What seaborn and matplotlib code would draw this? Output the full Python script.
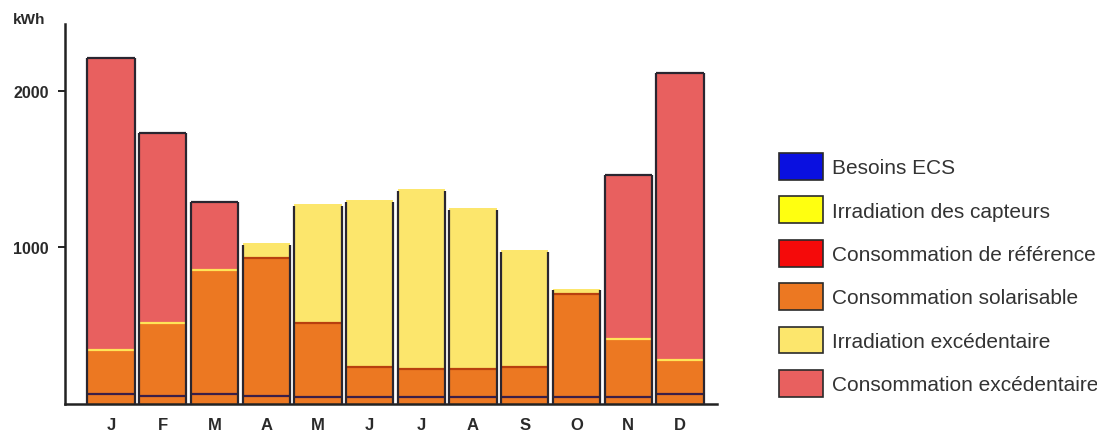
import numpy as np
import pandas as pd
import matplotlib
matplotlib.use("Agg")
import matplotlib.pyplot as plt
from matplotlib.patches import Patch
import seaborn as sns

# ---- data ----
month_keys = ['Jan', 'Fév', 'Mar', 'Avr', 'Mai', 'Juin', 'Juil', 'Août', 'Sep', 'Oct', 'Nov', 'Déc']
month_labels = ['J', 'F', 'M', 'A', 'M', 'J', 'J', 'A', 'S', 'O', 'N', 'D']
irradiation_capteurs = [345, 518, 858, 1027, 1278, 1304, 1374, 1252, 984, 735, 417, 283]
consommation_reference = [2209, 1732, 1291, 935, 518, 234, 224, 224, 234, 703, 1463, 2115]
besoins_ecs = [62, 49, 62, 49, 47, 47, 47, 47, 47, 47, 47, 62]
y_ticks = [1000, 2000]

legend_labels = ['Besoins ECS', 'Irradiation des capteurs', 'Consommation de référence',
                 'Consommation solarisable', 'Irradiation excédentaire', 'Consommation excédentaire']

# ---- styles ----
c_blue = '#0A10E0'
c_yellow = '#FFFF10'
c_red = '#F50A0A'
c_orange = '#EC7822'
c_lightyellow = '#FCE66C'
c_salmon = '#E8605F'
c_edge = '#2A2630'
c_ecs_line = '#3A1E48'
c_irr_line = '#FFE458'
c_cons_line = '#B8400E'

sns.set_style('white')
plt.rcParams['font.family'] = ['Liberation Sans', 'DejaVu Sans']

irr = np.array(irradiation_capteurs)
cons = np.array(consommation_reference)
solar = np.minimum(irr, cons)
total = np.maximum(irr, cons)
winter = cons > irr
top_colors = [c_salmon if w else c_lightyellow for w in winter]

df = pd.DataFrame({'mois': month_keys, 'total': total, 'solar': solar, 'ecs': besoins_ecs})

fig = plt.figure(figsize=(10.97, 4.31), dpi=100)
ax = fig.add_axes([0.0593, 0.0603, 0.5944, 0.8817])

W = 0.915
p0 = len(ax.patches)
sns.barplot(data=df, x='mois', y='total', hue='mois', palette=top_colors, dodge=False,
            order=month_keys, hue_order=month_keys, width=W, linewidth=0,
            errorbar=None, legend=False, ax=ax)
top_bars = sorted(ax.patches[p0:], key=lambda p: p.get_x())
p1 = len(ax.patches)
sns.barplot(data=df, x='mois', y='solar', color=c_orange, order=month_keys, width=W,
            linewidth=0, errorbar=None, ax=ax, saturation=1)
solar_bars = sorted(ax.patches[p1:], key=lambda p: p.get_x())
for p, c in zip(top_bars, top_colors):
    p.set_facecolor(c)

for i, p in enumerate(top_bars):
    x0, x1 = p.get_x(), p.get_x() + p.get_width()
    h = p.get_height()
    sp = solar_bars[i]
    # boundary between solarisable and excess
    ax.hlines(sp.get_height(), x0, x1, color=c_irr_line if winter[i] else c_cons_line,
              lw=1.6, zorder=4)
    # besoins ECS line
    ax.hlines(besoins_ecs[i], x0, x1, color=c_ecs_line, lw=1.6, zorder=4)
    # sides
    ax.vlines([x0, x1], 0, h * (1.0 if winter[i] else 0.99), color=c_edge, lw=1.6, zorder=5)
    if winter[i]:
        ax.hlines(h, x0, x1, color=c_edge, lw=1.6, zorder=5)

ax.set_xlim(-0.89, 11.72)
ax.set_ylim(0, 2428)
ax.set_xlabel('')
ax.set_ylabel('')
ax.set_xticks(range(len(month_labels)))
ax.set_xticklabels(month_labels, fontsize=12, fontweight='bold', color='#2a2a2a')
ax.set_yticks(y_ticks)
ax.set_yticklabels([str(v) for v in y_ticks], fontsize=11.5, fontweight='bold', color='#2a2a2a')
ax.tick_params(axis='x', length=0, pad=9)
ax.tick_params(axis='y', length=5, width=1.4, pad=6.5, color='#222222', direction='out', left=True)
for s in ['top', 'right']:
    ax.spines[s].set_visible(False)
for s in ['left', 'bottom']:
    ax.spines[s].set_color('#222222')
    ax.spines[s].set_linewidth(1.8)
ax.grid(False)

fig.text(13 / 1097, 1 - 20.5 / 431, 'kWh', fontsize=11, fontweight='bold', color='#2a2a2a',
         ha='left', va='center')

handle_colors = [c_blue, c_yellow, c_red, c_orange, c_lightyellow, c_salmon]
handles = [Patch(facecolor=c, edgecolor='#2a2a2a', linewidth=1.2) for c in handle_colors]
fig.legend(handles, legend_labels, loc='upper left', bbox_to_anchor=(0.710, 0.643),
           frameon=False, borderaxespad=0, borderpad=0, handlelength=2.1, handleheight=1.6,
           handletextpad=0.43, labelspacing=0.8, fontsize=15, labelcolor='#333333')

fig.savefig('out.png', dpi=100)
